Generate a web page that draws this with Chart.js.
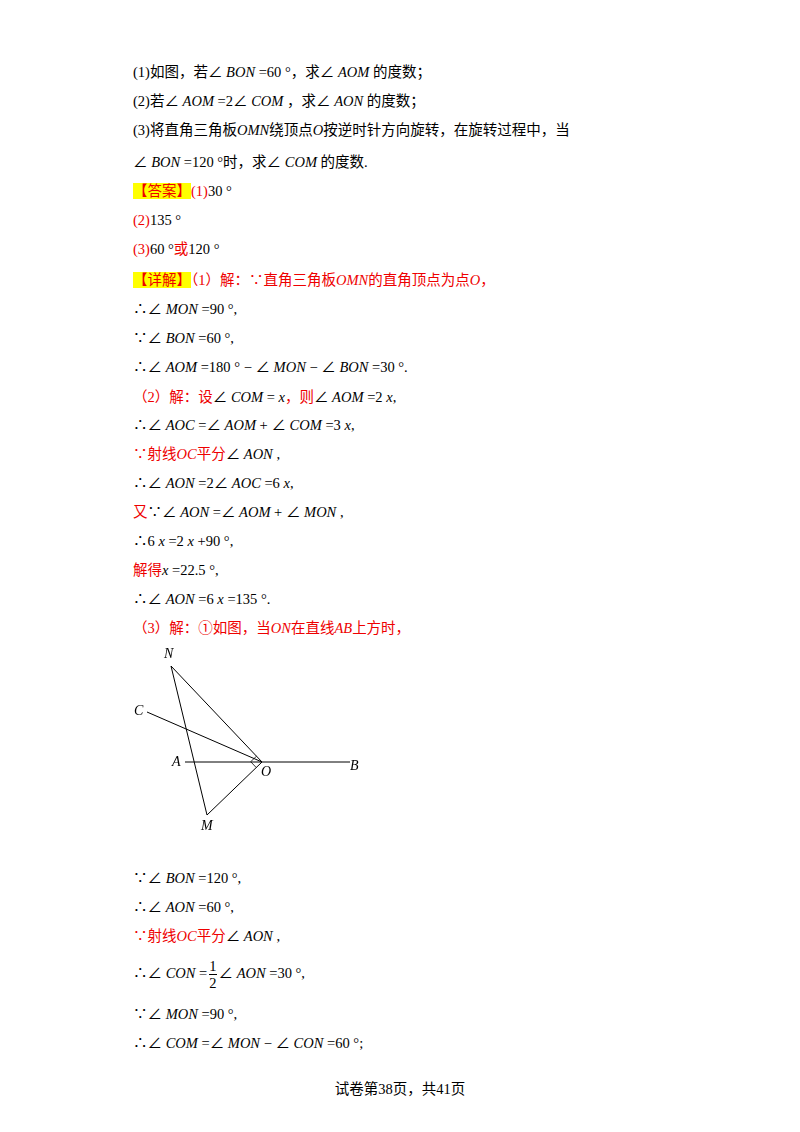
<!DOCTYPE html>
<html><head><meta charset="utf-8">
<script src="https://cdn.jsdelivr.net/npm/chart.js"></script>
<style>
body{margin:0;width:800px;height:1132px;background:#fff;position:relative;font-family:"Liberation Serif","Noto Sans CJK SC",serif;font-size:14.5px;color:#000}
.l{position:absolute;left:133px;white-space:nowrap;line-height:20px}
i{font-style:italic}
.r{color:#e00}
.hl{background:#ff0;color:#e00}
.lab{position:absolute;font-style:italic;font-size:14px}
#wrap{position:absolute;left:130px;top:640px;width:240px;height:200px}
.frac{display:inline-block;vertical-align:middle;text-align:center;line-height:16px;margin:0 2px}
.frac span{display:block}
.frac .n{border-bottom:1px solid #000}
</style></head><body>
<div class="l" style="top:62px">(1)如图，若∠ <i>BON</i> =60 °，求∠ <i>AOM</i> 的度数；</div>
<div class="l" style="top:91px">(2)若∠ <i>AOM</i> =2∠ <i>COM</i> ，求∠ <i>AON</i> 的度数；</div>
<div class="l" style="top:120px">(3)将直角三角板<i>OMN</i>绕顶点<i>O</i>按逆时针方向旋转，在旋转过程中，当</div>
<div class="l" style="top:152px">∠ <i>BON</i> =120 °时，求∠ <i>COM</i> 的度数.</div>
<div class="l" style="top:181px"><span class="hl">【答案】</span><span class="r">(1)</span>30 °</div>
<div class="l" style="top:210px"><span class="r">(2)</span>135 °</div>
<div class="l" style="top:239px"><span class="r">(3)</span>60 °<span class="r">或</span>120 °</div>
<div class="l" style="top:270px"><span class="hl">【详解】</span><span class="r">（1）解：∵直角三角板<i>OMN</i>的直角顶点为点<i>O</i>，</span></div>
<div class="l" style="top:299px">∴∠ <i>MON</i> =90 °,</div>
<div class="l" style="top:328px">∵∠ <i>BON</i> =60 °,</div>
<div class="l" style="top:357px">∴∠ <i>AOM</i> =180 ° − ∠ <i>MON</i> − ∠ <i>BON</i> =30 °.</div>
<div class="l" style="top:387px"><span class="r">（2）解：设</span>∠ <i>COM</i> = <i>x</i><span class="r">，则</span>∠ <i>AOM</i> =2 <i>x</i>,</div>
<div class="l" style="top:415px">∴∠ <i>AOC</i> =∠ <i>AOM</i> + ∠ <i>COM</i> =3 <i>x</i>,</div>
<div class="l" style="top:444px"><span class="r">∵射线<i>OC</i>平分</span>∠ <i>AON</i> ,</div>
<div class="l" style="top:473px">∴∠ <i>AON</i> =2∠ <i>AOC</i> =6 <i>x</i>,</div>
<div class="l" style="top:502px"><span class="r">又</span>∵∠ <i>AON</i> =∠ <i>AOM</i> + ∠ <i>MON</i> ,</div>
<div class="l" style="top:531px">∴6 <i>x</i> =2 <i>x</i> +90 °,</div>
<div class="l" style="top:560px"><span class="r">解得</span><i>x</i> =22.5 °,</div>
<div class="l" style="top:589px">∴∠ <i>AON</i> =6 <i>x</i> =135 °.</div>
<div class="l" style="top:618px"><span class="r">（3）解：①如图，当<i>ON</i>在直线<i>AB</i>上方时，</span></div>
<div id="wrap"><canvas id="c"></canvas></div>
<div class="lab" style="left:164px;top:646px">N</div>
<div class="lab" style="left:134px;top:703px">C</div>
<div class="lab" style="left:172px;top:754px">A</div>
<div class="lab" style="left:261px;top:764px">O</div>
<div class="lab" style="left:350px;top:758px">B</div>
<div class="lab" style="left:201px;top:818px">M</div>
<div class="l" style="top:868px">∵∠ <i>BON</i> =120 °,</div>
<div class="l" style="top:897px">∴∠ <i>AON</i> =60 °,</div>
<div class="l" style="top:926px"><span class="r">∵射线<i>OC</i>平分</span>∠ <i>AON</i> ,</div>
<div class="l" style="top:955px;line-height:36px">∴∠ <i>CON</i> =<span class="frac"><span class="n">1</span><span>2</span></span>∠ <i>AON</i> =30 °,</div>
<div class="l" style="top:1004px">∵∠ <i>MON</i> =90 °,</div>
<div class="l" style="top:1033px">∴∠ <i>COM</i> =∠ <i>MON</i> − ∠ <i>CON</i> =60 °;</div>
<div class="l" style="top:1079px;left:0;width:800px;text-align:center">试卷第38页，共41页</div>
<script>
const triangle=[[171,666],[207,815],[262,762],[171,666]];
const lineAB=[[185,762],[350,762]];
const rayOC=[[147,712],[262,762]];
const rightMark=[[256.5,756.2],[250.7,761.7],[256.2,767.5]];
const toPts=a=>a.map(p=>({x:p[0],y:p[1]}));
const ds=(d,w)=>({data:toPts(d),showLine:true,borderColor:'#000',borderWidth:w||1,pointRadius:0,fill:false,tension:0});
new Chart(document.getElementById('c'),{type:'scatter',
data:{datasets:[ds(triangle),ds(lineAB),ds(rayOC),ds(rightMark,0.8)]},
options:{responsive:true,maintainAspectRatio:false,animation:false,layout:{padding:0},
plugins:{legend:{display:false},tooltip:{enabled:false}},
scales:{x:{type:'linear',min:130,max:370,display:false},y:{type:'linear',min:640,max:840,reverse:true,display:false}}}});
</script>
</body></html>
